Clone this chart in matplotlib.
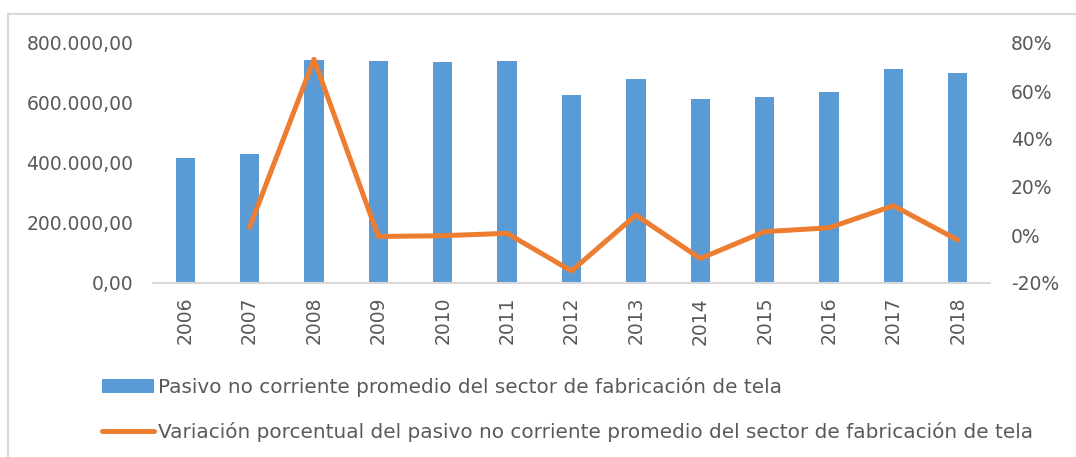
import matplotlib
matplotlib.use("Agg")
import numpy as np
import matplotlib.pyplot as plt
from matplotlib.ticker import FuncFormatter, FixedLocator
from matplotlib.patches import Rectangle

years = ['2006', '2007', '2008', '2009', '2010', '2011', '2012',
         '2013', '2014', '2015', '2016', '2017', '2018']
pasivo = [415600, 429000, 743000, 739000, 736700, 741000, 627800,
          679000, 612000, 620000, 636700, 714400, 699000]
variacion = [np.nan, 0.032, 0.732, -0.006, -0.003, 0.007, -0.150,
             0.083, -0.098, 0.014, 0.030, 0.122, -0.021]

bar_label = 'Pasivo no corriente promedio del sector de fabricación de tela'
line_label = 'Variación porcentual del pasivo no corriente promedio del sector de fabricación de tela'

blue = '#5B9BD5'
orange = '#ED7D31'
txt = '#595959'

plt.rcParams['font.family'] = ['DejaVu Sans']
plt.rcParams['font.size'] = 13

fig = plt.figure(figsize=(10.76, 4.57), dpi=100)
ax = fig.add_axes([153/1076, 1 - 283/457, (990-153)/1076, (283-43)/457])
ax2 = ax.twinx()

x = np.arange(len(years))
b = ax.bar(x, pasivo, width=0.3, color=blue, zorder=2, label=bar_label)
l, = ax2.plot(x, variacion, color=orange, lw=3.6, solid_capstyle='round',
              label=line_label, zorder=3)

ax.set_xlim(-0.5, len(years) - 0.5)
ax.set_ylim(0, 800000)
ax2.set_ylim(-0.2, 0.8)
ax.yaxis.set_major_locator(FixedLocator([0, 200000, 400000, 600000, 800000]))
ax2.yaxis.set_major_locator(FixedLocator([-0.2, 0, 0.2, 0.4, 0.6, 0.8]))

def miles(v, pos):
    s = f"{v:,.2f}"
    return s.replace(',', 'X').replace('.', ',').replace('X', '.')

ax.yaxis.set_major_formatter(FuncFormatter(miles))
ax2.yaxis.set_major_formatter(FuncFormatter(lambda v, p: f"{v*100:.0f}%"))

ax.set_xticks(x)
ax.set_xticklabels(years, rotation=90)

for a in (ax, ax2):
    a.tick_params(length=0, colors=txt, labelsize=13.5)
    for side in ('top', 'left', 'right', 'bottom'):
        a.spines[side].set_visible(False)
ax.spines['bottom'].set_visible(True)
ax.spines['bottom'].set_color('#d9d9d9')
ax.spines['bottom'].set_linewidth(1.5)
ax.tick_params(axis='y', pad=14)
ax2.tick_params(axis='y', pad=15)
ax.tick_params(axis='x', pad=10)
ax2.set_zorder(ax.get_zorder() + 1)
ax2.patch.set_visible(False)

# outer chart border
fig.patches.append(Rectangle((8/1076, -0.1), 1.2, 1 - 14/457 + 0.1,
                             transform=fig.transFigure, fill=False,
                             edgecolor='#d9d9d9', lw=1.5))

leg = fig.legend([b, l], [bar_label, line_label], loc='upper left',
                 bbox_to_anchor=(84/1076, 1 - 359/457), frameon=False,
                 handlelength=2.6, handleheight=0.65, handletextpad=0.2,
                 labelspacing=1.25, fontsize=14.4)
for t in leg.get_texts():
    t.set_color(txt)

fig.savefig('out.png', dpi=100)
